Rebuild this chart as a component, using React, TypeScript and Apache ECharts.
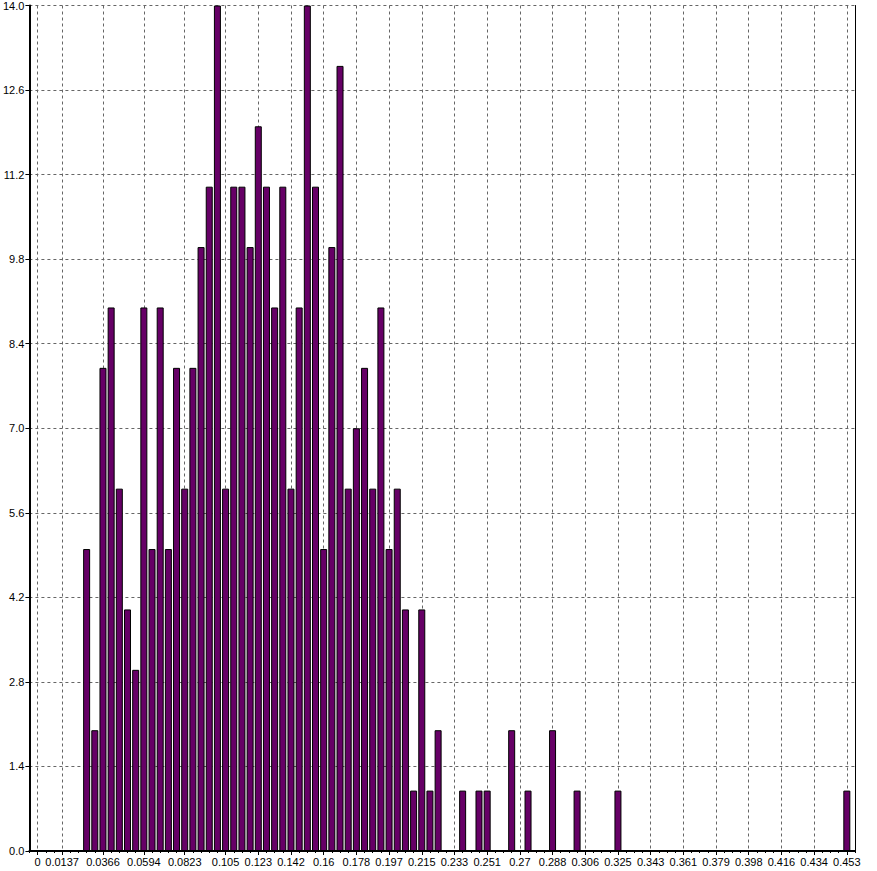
import React, { useEffect, useRef } from "react";
import * as echarts from "echarts";

// Histogram counts for bins k = 0..99 (bin centres k * 0.453 / 99)
const counts: number[] = [
  0, 0, 0, 0, 0, 0, 5, 2, 8, 9,
  6, 4, 3, 9, 5, 9, 5, 8, 6, 8,
  10, 11, 14, 6, 11, 11, 10, 12, 11, 9,
  11, 6, 9, 14, 11, 5, 10, 13, 6, 7,
  8, 6, 9, 5, 6, 4, 1, 4, 1, 2,
  0, 0, 1, 0, 1, 1, 0, 0, 2, 0,
  1, 0, 0, 2, 0, 0, 1, 0, 0, 0,
  0, 1, 0, 0, 0, 0, 0, 0, 0, 0,
  0, 0, 0, 0, 0, 0, 0, 0, 0, 0,
  0, 0, 0, 0, 0, 0, 0, 0, 0, 1,
];

// Bins that carry a tick label, and their labels
const tickBins: number[] = [0, 3, 8, 13, 18, 23, 27, 31, 35, 39, 43, 47, 51, 55, 59, 63, 67, 71, 75, 79, 83, 87, 91, 95, 99];
const tickLabels: string[] = [
  "0", "0.0137", "0.0366", "0.0594", "0.0823", "0.105", "0.123", "0.142", "0.16", "0.178",
  "0.197", "0.215", "0.233", "0.251", "0.27", "0.288", "0.306", "0.325", "0.343", "0.361",
  "0.379", "0.398", "0.416", "0.434", "0.453",
];

const yMin = 0;
const yMax = 14;
const yStep = 1.4;

export default function App() {
  const ref = useRef<HTMLDivElement>(null);

  useEffect(() => {
    if (!ref.current) return;
    const chart = echarts.init(ref.current, undefined, { renderer: "svg" });

    // categories: one padding slot before bin 0 and one after bin 99
    const labelOf = new Map<number, string>();
    tickBins.forEach((b, i) => labelOf.set(b, tickLabels[i]));
    const categories: string[] = [];
    for (let k = -1; k <= counts.length; k++) categories.push(labelOf.get(k) ?? "");
    const seriesData = ["-", ...counts.map((c) => (c > 0 ? c : "-")), "-"];
    const isMajor = (idx: number) => labelOf.has(idx - 1);

    const font = "Liberation Sans";

    chart.setOption({
      animation: false,
      backgroundColor: "#ffffff",
      grid: { left: 26, right: 22, top: 5, bottom: 20, containLabel: false },
      xAxis: [
        {
          type: "category",
          data: categories,
          boundaryGap: false,
          axisLine: { show: true, lineStyle: { color: "#000", width: 2 } },
          axisTick: { show: true, interval: (i: number) => isMajor(i), length: 4, lineStyle: { color: "#000" } },
          axisLabel: {
            show: true,
            interval: (i: number) => isMajor(i),
            color: "#000",
            fontSize: 11,
            fontFamily: font,
            margin: 5,
          },
          splitLine: {
            show: true,
            interval: (i: number) => isMajor(i),
            lineStyle: { color: "#666", type: [3, 3], width: 1 },
          },
        },
        {
          type: "category",
          data: categories,
          boundaryGap: false,
          position: "bottom",
          axisLine: { show: false },
          axisTick: { show: true, interval: 0, length: 2, lineStyle: { color: "#000" } },
          axisLabel: { show: false },
          splitLine: { show: false },
        },
      ],
      yAxis: [
        {
          type: "value",
          min: yMin,
          max: yMax,
          interval: yStep,
          axisLine: { show: true, lineStyle: { color: "#000", width: 2 } },
          axisTick: { show: true, length: 4, lineStyle: { color: "#000" } },
          axisLabel: {
            color: "#000",
            fontSize: 11,
            fontFamily: font,
            margin: 5,
            formatter: (v: number) => v.toFixed(1),
          },
          splitLine: { show: true, lineStyle: { color: "#666", type: [3, 3], width: 1 } },
        },
        {
          type: "value",
          position: "right",
          min: yMin,
          max: yMax,
          interval: yStep,
          axisLine: { show: true, lineStyle: { color: "#000", width: 1 } },
          axisTick: { show: false },
          axisLabel: { show: false },
          splitLine: { show: false },
        },
      ],
      series: [
        {
          type: "bar",
          xAxisIndex: 0,
          yAxisIndex: 0,
          data: seriesData,
          barWidth: 7,
          itemStyle: { color: "#660066", borderColor: "#000", borderWidth: 1 },
        },
      ],
    });

    return () => chart.dispose();
  }, []);

  return (
    <div
      ref={ref}
      style={{ position: "fixed", left: 0, top: 0, width: 877, height: 871, background: "#fff" }}
    />
  );
}
